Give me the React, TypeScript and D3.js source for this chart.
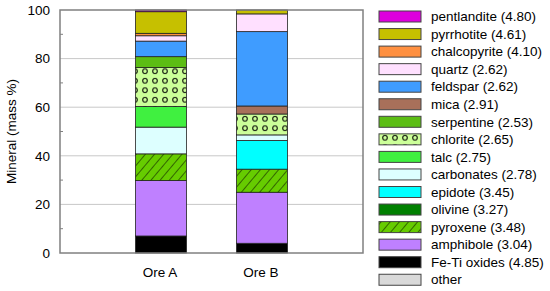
import React from 'react';
import * as d3 from 'd3';

// ore samples and mineral list (stack order is bottom -> top)
const ores = ['Ore A', 'Ore B'];
const minerals = [
  'other',
  'Fe-Ti oxides',
  'amphibole',
  'pyroxene',
  'olivine',
  'epidote',
  'carbonates',
  'talc',
  'chlorite',
  'serpentine',
  'mica',
  'feldspar',
  'quartz',
  'chalcopyrite',
  'pyrrhotite',
  'pentlandite',
];
const densities = ['', '4.85', '3.04', '3.48', '3.27', '3.45', '2.78', '2.75', '2.65', '2.53', '2.91', '2.62', '2.62', '4.10', '4.61', '4.80'];
const oreA = [0, 7.0, 22.8, 11.0, 0, 0, 11.0, 8.5, 16.0, 4.5, 0, 6.4, 2.2, 1.0, 8.9, 0.7];
const oreB = [0, 4.0, 21.0, 9.5, 0, 11.8, 2.3, 0, 8.6, 0, 3.3, 30.6, 7.3, 0, 1.6, 0];
const yTicks = [0, 20, 40, 60, 80, 100];
const yMinorTicks = [10, 30, 50, 70, 90];

const fills: Record<string, string> = {
  other: '#d9d9d9',
  'Fe-Ti oxides': '#000000',
  amphibole: '#bf80ff',
  pyroxene: 'url(#hatch)',
  olivine: '#008000',
  epidote: '#00ffff',
  carbonates: '#ddffff',
  talc: '#40f040',
  chlorite: 'url(#dots)',
  serpentine: '#5cbd14',
  mica: '#a8705a',
  feldspar: '#3f9cff',
  quartz: '#ffe0ff',
  chalcopyrite: '#ff9040',
  pyrrhotite: '#c6c000',
  pentlandite: '#dd00dd',
};

const font = '"Liberation Sans", Arial, sans-serif';
const fs = 13.5;

export default function App() {
  const width = 550;
  const height = 291;
  const left = 60;
  const right = 363;
  const top = 10;
  const bottom = 253;
  const barW = 51;

  const x = d3.scalePoint<string>().domain(ores).range([left, right]).padding(1);
  const y = d3.scaleLinear().domain([0, 100]).range([bottom, top]);

  const table = ores.map((ore, i) => {
    const row: Record<string, number | string> = { ore };
    minerals.forEach((m, j) => {
      row[m] = (i === 0 ? oreA : oreB)[j];
    });
    return row;
  });
  const stacked = d3.stack<Record<string, number | string>>().keys(minerals)(table as any);

  const legendRow = 17.55;
  const legendTop = 11;
  const legendItems = minerals.slice().reverse();

  return (
    <svg width={width} height={height} style={{ position: 'absolute', left: 0, top: 0 }} fontFamily={font}>
      <defs>
        <pattern id="hatch" patternUnits="userSpaceOnUse" width="7" height="7" patternTransform="rotate(40)">
          <rect width="7" height="7" fill="#66cc00" />
          <line x1="0" y1="0" x2="0" y2="7" stroke="#000" strokeWidth="1" />
        </pattern>
        <pattern id="dots" patternUnits="userSpaceOnUse" width="10" height="9.5">
          <rect width="10" height="9.5" fill="#ccff99" />
          <circle cx="5" cy="4.75" r="2.3" fill="none" stroke="#000" strokeWidth="1" />
        </pattern>
      </defs>

      {/* gridlines */}
      {yTicks.slice(1, -1).map((t) => (
        <line key={t} x1={left} x2={right} y1={y(t)} y2={y(t)} stroke="#c8c8c8" strokeWidth={1} />
      ))}
      {yMinorTicks.map((t) => (
        <line key={t} x1={left} x2={left + 3} y1={y(t)} y2={y(t)} stroke="#808080" strokeWidth={1} />
      ))}

      {/* bars */}
      {stacked.map((s) =>
        s.map((d, i) =>
          d[1] - d[0] > 0 ? (
            <rect
              key={s.key + i}
              x={(x(ores[i]) as number) - barW / 2}
              y={y(d[1])}
              width={barW}
              height={y(d[0]) - y(d[1])}
              fill={fills[s.key]}
              stroke="#222"
              strokeWidth={0.8}
            />
          ) : null
        )
      )}

      {/* frame */}
      <rect x={left} y={top} width={right - left} height={bottom - top} fill="none" stroke="#808080" strokeWidth={1.5} />

      {/* y tick labels */}
      {yTicks.map((t) => (
        <text key={t} x={left - 10} y={y(t)} dy="0.35em" textAnchor="end" fontSize={fs} fill="#000">
          {t}
        </text>
      ))}
      <text transform={`translate(11,${(top + bottom) / 2}) rotate(-90)`} textAnchor="middle" dy="0.35em" fontSize={fs}>
        Mineral (mass %)
      </text>

      {/* x labels */}
      {ores.map((o) => (
        <text key={o} x={(x(o) as number) - 1} y={277} textAnchor="middle" fontSize={fs}>
          {o}
        </text>
      ))}

      {/* legend */}
      {legendItems.map((m, i) => {
        const j = minerals.indexOf(m);
        const yy = legendTop + i * legendRow;
        return (
          <g key={m}>
            <rect x={379} y={yy} width={42} height={11} fill={fills[m]} stroke="#444" strokeWidth={1} />
            <text x={431} y={yy + 5.5} dy="0.35em" fontSize={fs}>
              {densities[j] ? `${m} (${densities[j]})` : m}
            </text>
          </g>
        );
      })}
    </svg>
  );
}
